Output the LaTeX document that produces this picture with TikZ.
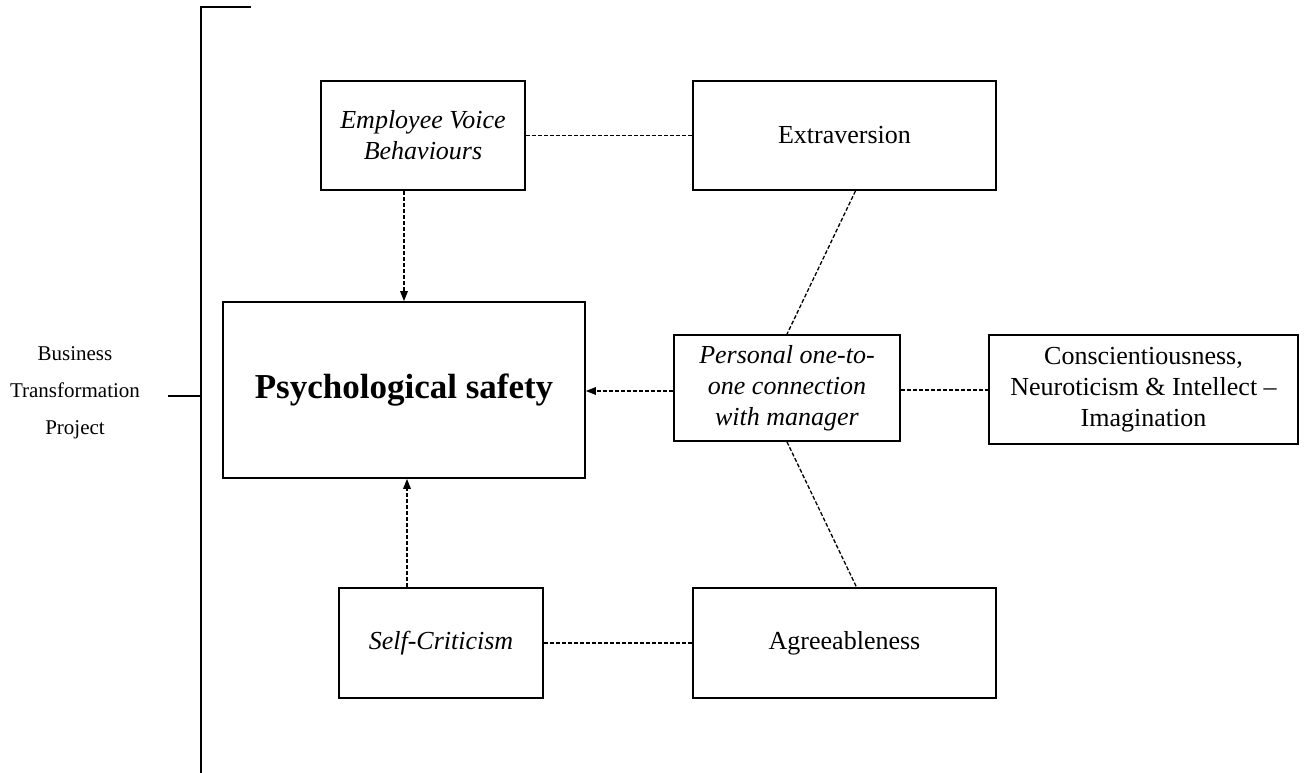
\documentclass[tikz,border=0pt]{standalone}
\usepackage{fontspec}
\setmainfont{Liberation Serif}
\usetikzlibrary{arrows.meta,calc}
\begin{document}
\begin{tikzpicture}[x=1pt,y=-1pt,
  box/.style={draw,line width=1.8pt,align=center,inner sep=0pt,
    font=\fontsize{26}{31}\selectfont},
  link/.style={line width=1.3pt,dash pattern=on 4pt off 2pt},
  arr/.style={link,-{Triangle[length=10pt,width=8pt,line width=0pt]}},
  brk/.style={line width=2.4pt}]
\useasboundingbox (0,0) rectangle (1315,773);
\node[box,minimum width=204pt,minimum height=109pt] (evb) at (423,135.5) {\itshape Employee Voice\\\itshape Behaviours};
\node[box,minimum width=303pt,minimum height=109pt] (extra) at (844.5,135.5) {Extraversion};
\node[box,minimum width=362pt,minimum height=176pt,font=\fontsize{35}{40}\selectfont\bfseries] (psy) at (404,390) {Psychological safety};
\node[box,minimum width=226pt,minimum height=106pt] (pers) at (787,388) {\itshape Personal one-to-\\\itshape one connection\\\itshape with manager};
\node[box,minimum width=309pt,minimum height=109pt] (cons) at (1143.5,389.5) {Conscientiousness,\\Neuroticism \& Intellect --\\Imagination};
\node[box,minimum width=204pt,minimum height=110pt] (selfc) at (441,643) {\itshape Self-Criticism};
\node[box,minimum width=303pt,minimum height=110pt] (agree) at (844.5,643) {Agreeableness};
\node[align=center,font=\fontsize{21}{37}\selectfont] (lbl) at (75,393) {Business\\Transformation\\Project};
\coordinate (btop) at (201,7);
\coordinate (bend) at (251,7);
\coordinate (bbot) at (201,773);
\coordinate (tick) at (168,396);
\coordinate (tickj) at (201,396);
\draw[brk] (bend) -- (btop) -- (bbot);
\draw[brk] (tick) -- (tickj);
\draw[link] (evb.east) -- (extra.west);
\draw[link] (selfc.east) -- (agree.west);
\draw[link] ($(pers.east)+(0,2)$) -- ($(pers.east -| cons.west)+(0,2)$);
\draw[arr] (psy.north |- evb.south) -- (psy.north);
\draw[arr] ($(psy.south |- selfc.north)+(3,0)$) -- ($(psy.south)+(3,0)$);
\draw[arr] ($(pers.west)+(0,3)$) -- ($(pers.west -| psy.east)+(0,3)$);
\draw[link] ($(extra.south)+(11,0)$) -- (pers.north);
\draw[link] (pers.south) -- ($(agree.north)+(12,0)$);
\end{tikzpicture}
\end{document}
